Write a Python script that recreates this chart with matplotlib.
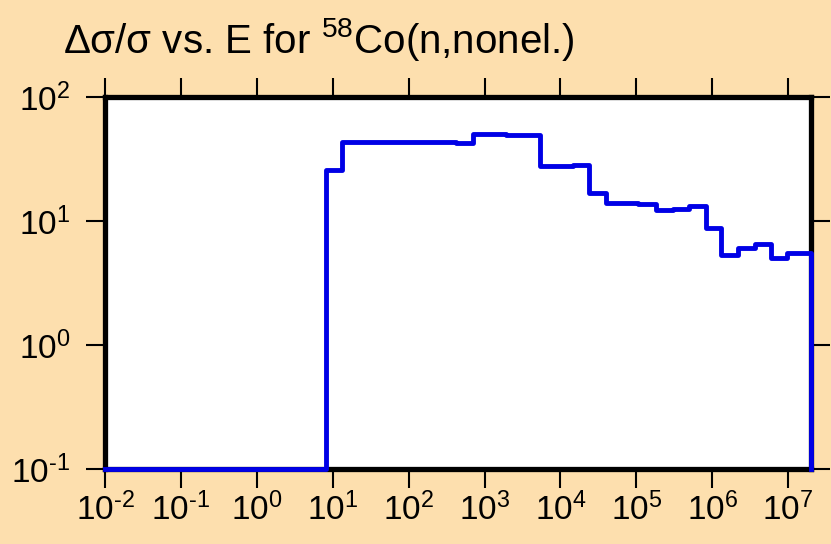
import math
import matplotlib
matplotlib.use("Agg")
import matplotlib.pyplot as plt
from matplotlib.ticker import FixedLocator, FuncFormatter, NullLocator

# group boundaries (eV) and relative uncertainty (%) per group
edges = [1e-2, 8.2, 13.4, 423, 708, 1.9e3, 3.2e3, 5.4e3, 8.5e3, 1.45e4, 2.4e4,
         4.0e4, 6.9e4, 1.05e5, 1.8e5, 3.0e5, 5.0e5, 8.3e5, 1.3e6, 2.2e6, 3.7e6,
         5.9e6, 9.6e6, 2.0e7]
values = [0.1, 25.8, 43.6, 42.8, 50.0, 49.5, 49.2, 27.6, 27.8, 28.1, 16.8,
          14.0, 14.0, 13.8, 12.3, 12.5, 13.1, 8.8, 5.3, 6.05, 6.5, 5.0, 5.5]

xticks = [1e-2, 1e-1, 1e0, 1e1, 1e2, 1e3, 1e4, 1e5, 1e6, 1e7]
yticks = [1e-1, 1e0, 1e1, 1e2]

plt.rcParams['font.family'] = ['Liberation Sans', 'DejaVu Sans']
plt.rcParams['mathtext.default'] = 'regular'

bg = '#FDDFAE'
fig = plt.figure(figsize=(8.31, 5.44), dpi=100, facecolor=bg)
ax = fig.add_axes([105 / 831, 1 - 469 / 544, (811 - 105) / 831, (469 - 97) / 544])
ax.set_facecolor('white')

xs = edges + [edges[-1]]
ys = values + [values[-1], 0.1]
ax.plot(xs, ys, drawstyle='steps-post', color='#0000E6', lw=3.5,
        clip_on=False, zorder=5)

ax.set_xscale('log')
ax.set_yscale('log')
ax.set_xlim(1e-2, 2e7)
ax.set_ylim(1e-1, 1e2)

def pow_fmt(v, pos):
    e = int(round(math.log10(v)))
    return '$10^{%s}$' % str(e).replace('-', '\u2010')

ax.xaxis.set_major_locator(FixedLocator(xticks))
ax.yaxis.set_major_locator(FixedLocator(yticks))
ax.xaxis.set_minor_locator(NullLocator())
ax.yaxis.set_minor_locator(NullLocator())
ax.xaxis.set_major_formatter(FuncFormatter(pow_fmt))
ax.yaxis.set_major_formatter(FuncFormatter(pow_fmt))

ax.tick_params(which='major', direction='out', length=14, width=1.5,
               top=True, right=True, labelsize=24)
ax.tick_params(axis='x', pad=3)
ax.tick_params(axis='y', pad=11)

for s in ax.spines.values():
    s.set_linewidth(3.8)
    s.set_color('black')

fig.text(63 / 831, 1 - 53 / 544, '\u0394\u03c3/\u03c3 vs. E for $^{58}$Co(n,nonel.)',
         fontsize=29, ha='left', va='baseline')

fig.savefig('out.png', dpi=100, facecolor=bg)
